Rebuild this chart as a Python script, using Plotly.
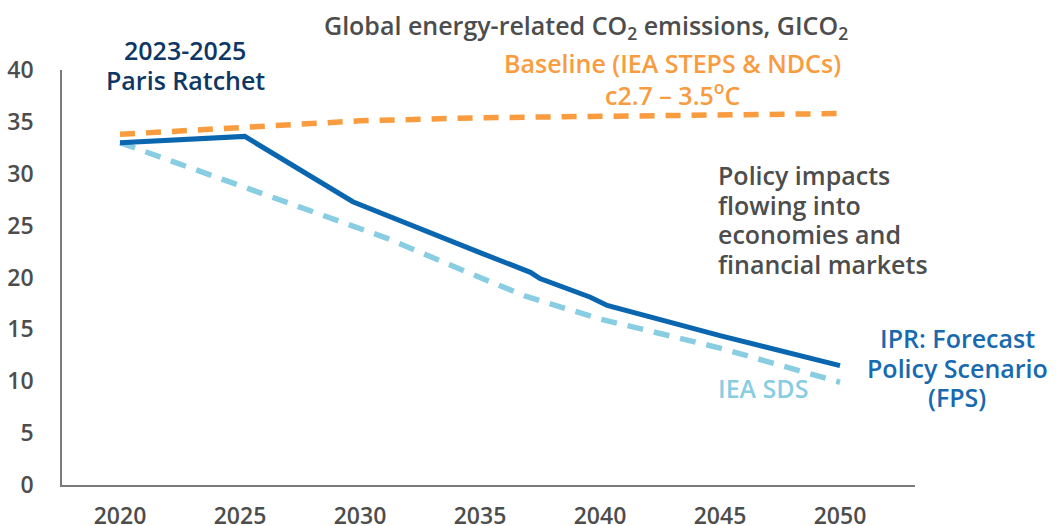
import plotly.graph_objects as go

# Data
fps_years = [2020, 2025.2, 2029.7, 2031.7, 2035, 2037.1, 2037.5, 2039.6, 2040.3, 2045, 2050]
fps_values = [33.0, 33.6, 27.3, 25.5, 22.4, 20.5, 19.9, 18.1, 17.3, 14.4, 11.5]

sds_years = [2020, 2025, 2030, 2031.1, 2035, 2036.9, 2040, 2045, 2050]
sds_values = [33.0, 28.9, 24.8, 23.8, 20.0, 18.2, 16.0, 13.2, 9.9]

base_years = [2020, 2025, 2030, 2035, 2040, 2045, 2050]
base_values = [33.8, 34.5, 35.1, 35.4, 35.5, 35.65, 35.8]

x_ticks = [2020, 2025, 2030, 2035, 2040, 2045, 2050]
y_ticks = [0, 5, 10, 15, 20, 25, 30, 35, 40]

FONT = "Open Sans"
C_FPS = "#0b66b0"
C_SDS = "#88cde2"
C_BASE = "#f89c3f"
C_GREY = "#4d4d4d"
C_NAVY = "#0e3766"
C_IPR = "#1769b0"
SZ = 25

L, R, T, B = 62, 141, 70, 41
W, H = 1056, 526
pw, ph = W - L - R, H - T - B

fig = go.Figure()
fig.add_trace(go.Scatter(x=base_years, y=base_values, mode="lines",
                         line=dict(color=C_BASE, width=5.5, dash="15px,11px"),
                         showlegend=False, hoverinfo="skip"))
fig.add_trace(go.Scatter(x=sds_years, y=sds_values, mode="lines",
                         line=dict(color=C_SDS, width=5.5, dash="16px,11px"),
                         showlegend=False, hoverinfo="skip"))
fig.add_trace(go.Scatter(x=fps_years, y=fps_values, mode="lines",
                         line=dict(color=C_FPS, width=5),
                         showlegend=False, hoverinfo="skip"))


def add_text(px, py, text, color, anchor="center"):
    fig.add_annotation(x=(px - L) / pw, y=1 - (py - T) / ph, xref="paper", yref="paper",
                       text=text, showarrow=False, xanchor=anchor, yanchor="middle",
                       font=dict(family=FONT, size=SZ, color=color, weight=600))


add_text(586, 27, "Global energy-related CO<sub>2</sub> emissions, GICO<sub>2</sub>", C_GREY)
add_text(672, 63, "Baseline (IEA STEPS & NDCs)", C_BASE)
add_text(672, 93, "c2.7 – 3.5<sup>o</sup>C", C_BASE)
add_text(185, 50, "2023-2025", C_NAVY)
add_text(185, 80, "Paris Ratchet", C_NAVY)
add_text(957, 338, "IPR: Forecast", C_IPR)
add_text(957, 368, "Policy Scenario", C_IPR)
add_text(957, 397, "(FPS)", C_IPR)
add_text(763, 388, "IEA SDS", C_SDS)

policy_lines = ["Policy impacts", "flowing into", "economies and", "financial markets"]
for i, t in enumerate(policy_lines):
    add_text(716, 175 + i * 29.5, t, C_GREY, anchor="left")

fig.update_layout(
    width=W, height=H,
    margin=dict(l=L, r=R, t=T, b=B, autoexpand=False),
    paper_bgcolor="white", plot_bgcolor="white",
    font=dict(family=FONT),
)
fig.update_xaxes(range=[2020 - 58 / 24, 2020 + (pw - 58) / 24], tickvals=x_ticks,
                 ticktext=[str(v) for v in x_ticks], showgrid=False, zeroline=False,
                 showline=True, linecolor="#7a7a7a", linewidth=1.5, ticks="",
                 ticklabelstandoff=10, automargin=False,
                 tickfont=dict(family=FONT, size=23, color=C_GREY, weight=600))
fig.update_yaxes(range=[0, 40], tickvals=y_ticks, showgrid=False, zeroline=False,
                 showline=True, linecolor="#7a7a7a", linewidth=1.5, ticks="",
                 ticklabelstandoff=22, automargin=False,
                 tickfont=dict(family=FONT, size=23, color=C_GREY, weight=600))

fig.write_html("out.html", config={"displayModeBar": False},
               post_script="document.body.style.margin='0';document.body.style.overflow='hidden';")
